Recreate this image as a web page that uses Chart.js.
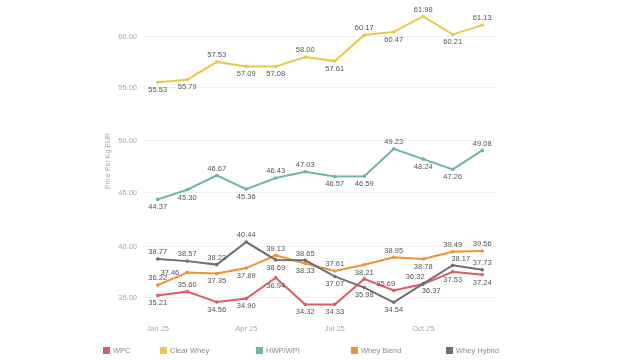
<!DOCTYPE html>
<html>
<head>
<meta charset="utf-8">
<script src="https://cdn.jsdelivr.net/npm/chart.js@4.4.1/dist/chart.umd.min.js"></script>
<style>
  html, body { margin: 0; padding: 0; background: #ffffff; }
  #wrap { position: relative; width: 640px; height: 360px; }
  canvas { display: block; }
</style>
</head>
<body>
<div id="wrap"><canvas id="c" width="640" height="360"></canvas></div>
<script>
// ---- data ----
const months = ['Jan 25','Feb 25','Mar 25','Apr 25','May 25','Jun 25','Jul 25','Aug 25','Sep 25','Oct 25','Nov 25','Dec 25'];
const wpc        = [35.21, 35.60, 34.56, 34.90, 36.94, 34.32, 34.33, 36.83, 35.69, 36.32, 37.53, 37.24];
const clearWhey  = [55.53, 55.79, 57.53, 57.09, 57.08, 58.00, 57.61, 60.17, 60.47, 61.98, 60.21, 61.13];
const hwpWpi     = [44.37, 45.30, 46.67, 45.36, 46.43, 47.03, 46.57, 46.59, 49.23, 48.24, 47.26, 49.08];
const wheyBlend  = [36.22, 37.46, 37.35, 37.89, 39.13, 38.33, 37.61, 38.21, 38.95, 38.78, 39.49, 39.56];
const wheyHybrid = [38.77, 38.57, 38.23, 40.44, 38.69, 38.65, 37.07, 35.98, 34.54, 36.37, 38.17, 37.73];
const topTicks = [55, 60];
const midTicks = [45, 50];
const botTicks = [35, 40];
const seriesNames = ['WPC', 'Clear Whey', 'HWP/WPI', 'Whey Blend', 'Whey Hybrid'];

// ---- styling ----
const colors = ['#e05a64', '#e9c84d', '#6fb89a', '#f0922f', '#6f6f6f'];
// label placement per point: a=above, b=below, l=left, al/ar/bl/br shifted, '' = hidden
const labelPos = [
  ['b','a','b','b','b','b','b','','al','al','b','b'],
  ['b','b','a','b','b','a','b','a','b','a','b','a'],
  ['b','b','a','b','a','a','b','b','a','b','b','a'],
  ['a','l','b','b','a','b','a','b','a','b','a','a'],
  ['a','a','a','a','b','a','b','b','b','br','ar','a']
];
const FONT = '"Liberation Sans", Arial, sans-serif';

const axisFor = ['yBot', 'yTop', 'yMid', 'yBot', 'yBot'];
const seriesData = [wpc, clearWhey, hwpWpi, wheyBlend, wheyHybrid];
const drawOrder = [2, 1, 1, 1, 0];

const datasets = seriesData.map((d, i) => ({
  label: seriesNames[i],
  data: d,
  yAxisID: axisFor[i],
  borderColor: colors[i],
  backgroundColor: colors[i],
  pointBackgroundColor: colors[i],
  pointBorderWidth: 0,
  pointRadius: 1.8,
  borderWidth: 2,
  tension: 0,
  order: drawOrder[i]
}));

function yAxis(ticksArr, min, max) {
  return {
    type: 'linear',
    position: 'left',
    stack: 'panels',
    stackWeight: 1,
    min: min,
    max: max,
    afterFit: (s) => { s.width = 143; s.paddingTop = 0; s.paddingBottom = 0; },
    afterBuildTicks: (s) => { s.ticks = ticksArr.map(v => ({ value: v })); },
    grid: { color: '#f1f1f1', drawTicks: false, lineWidth: 1 },
    border: { display: false },
    ticks: {
      color: '#a8a8a8',
      font: { family: FONT, size: 7.5 },
      padding: 6,
      callback: (v) => Number(v).toFixed(2)
    }
  };
}

const labelPlugin = {
  id: 'labels',
  afterDatasetsDraw(chart) {
    const ctx = chart.ctx;
    ctx.save();
    ctx.font = '7.5px ' + FONT;
    ctx.fillStyle = '#555555';
    chart.data.datasets.forEach((ds, i) => {
      const meta = chart.getDatasetMeta(i);
      meta.data.forEach((pt, j) => {
        const p = labelPos[i][j];
        if (!p) return;
        const txt = Number(ds.data[j]).toFixed(2);
        let x = pt.x, y = pt.y;
        ctx.textAlign = 'center';
        if (p === 'l') {
          ctx.textAlign = 'right';
          ctx.textBaseline = 'middle';
          ctx.fillText(txt, x - 8, y);
          return;
        }
        if (p.length === 2) x += (p[1] === 'l' ? -8 : 8);
        if (p[0] === 'a') { ctx.textBaseline = 'bottom'; ctx.fillText(txt, x, y - 3); }
        else { ctx.textBaseline = 'top'; ctx.fillText(txt, x, y + 4); }
      });
    });
    // axis title
    const mid = chart.scales.yMid;
    ctx.translate(108, (mid.top + mid.bottom) / 2);
    ctx.rotate(-Math.PI / 2);
    ctx.font = '7px ' + FONT;
    ctx.fillStyle = '#a8a8a8';
    ctx.textAlign = 'center';
    ctx.textBaseline = 'middle';
    ctx.fillText('Price Per Kg EUR', 0, 0);
    ctx.restore();
  },
  afterDraw(chart) {
    const ctx = chart.ctx;
    const xs = [103, 160, 256, 351, 446];
    ctx.save();
    ctx.font = '7.5px ' + FONT;
    ctx.textBaseline = 'middle';
    ctx.textAlign = 'left';
    seriesNames.forEach((n, i) => {
      ctx.fillStyle = colors[i];
      ctx.fillRect(xs[i], 347, 7, 7);
      ctx.fillStyle = '#8a8a8a';
      ctx.fillText(n, xs[i] + 10, 350.5);
    });
    ctx.restore();
  }
};

new Chart(document.getElementById('c'), {
  type: 'line',
  data: { labels: months, datasets: datasets },
  options: {
    responsive: false,
    animation: false,
    layout: { padding: { left: 0, right: 143, top: 2, bottom: 21 } },
    plugins: { legend: { display: false }, tooltip: { enabled: false } },
    scales: {
      x: {
        type: 'category',
        offset: true,
        grid: { display: false, drawTicks: false },
        border: { display: false },
        ticks: {
          color: '#a8a8a8',
          font: { family: FONT, size: 7.5 },
          padding: 6,
          maxRotation: 0,
          autoSkip: false,
          callback: function(v, i) { return i % 3 === 0 ? this.getLabelForValue(v) : ''; }
        }
      },
      yBot: yAxis(botTicks, 33.0, 43.25),
      yMid: yAxis(midTicks, 43.03, 53.09),
      yTop: yAxis(topTicks, 52.95, 63.2)
    }
  },
  plugins: [labelPlugin]
});
</script>
</body>
</html>
